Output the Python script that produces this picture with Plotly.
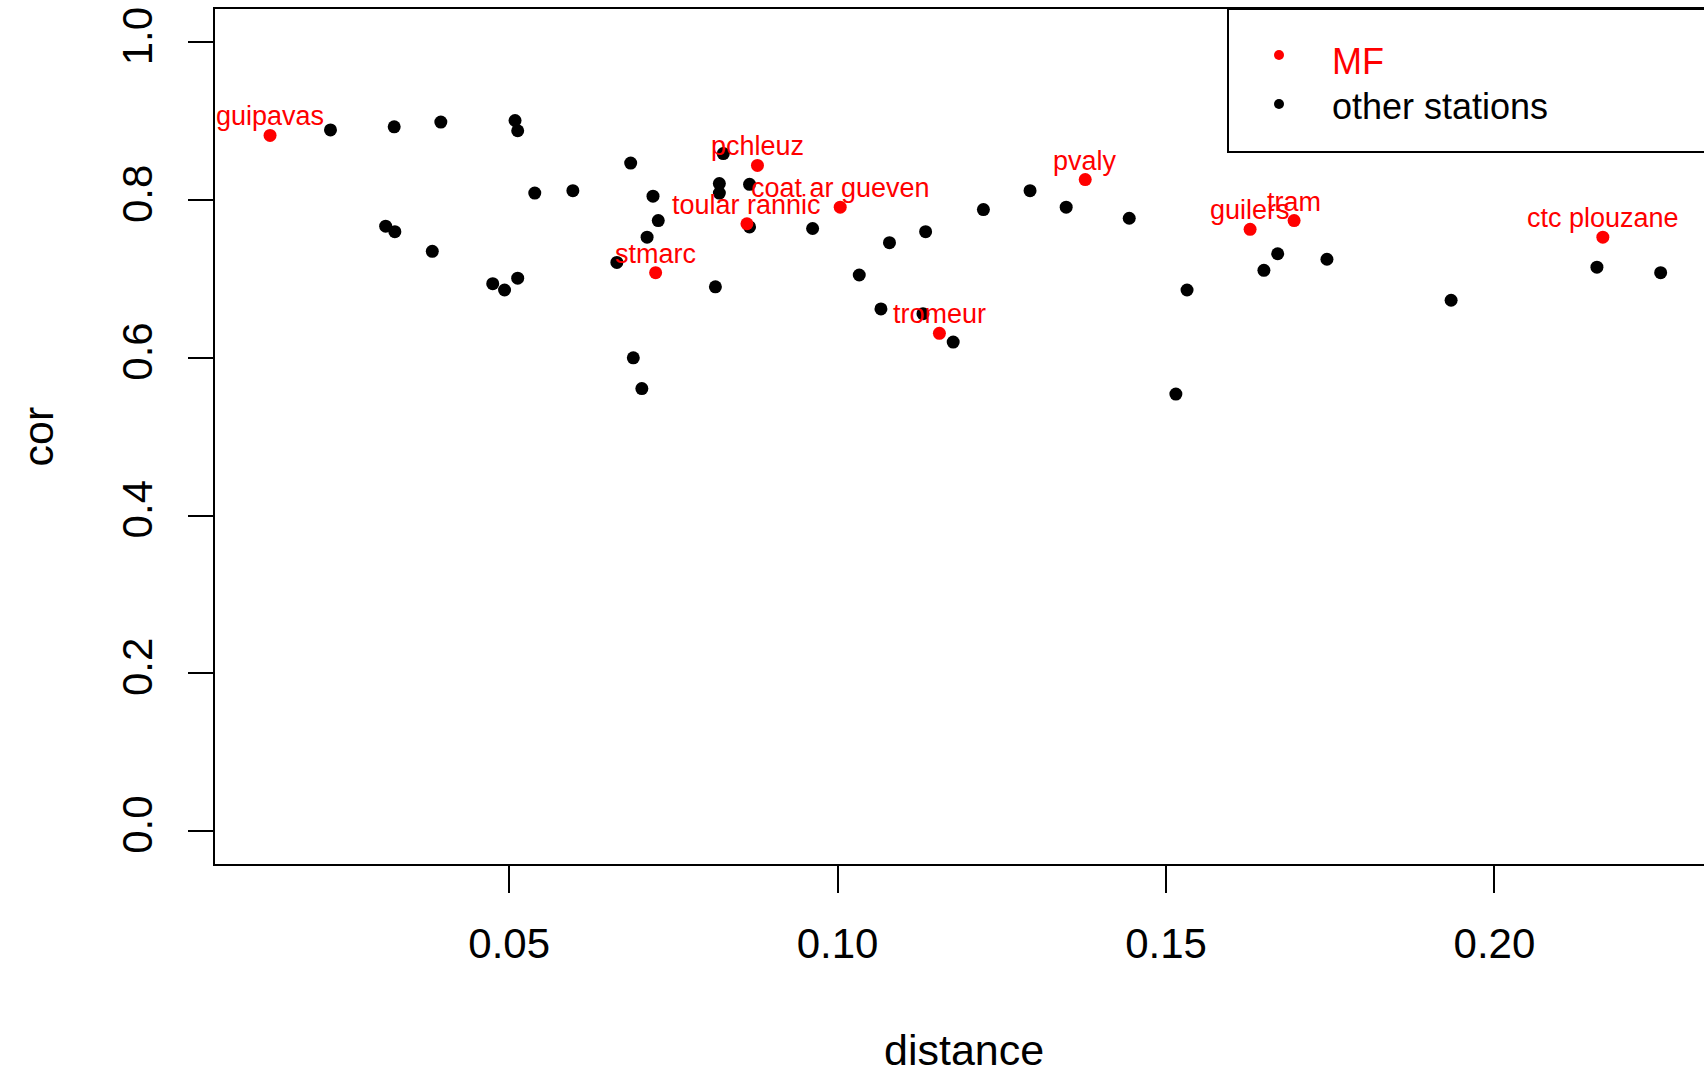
import plotly.graph_objects as go

# ---- data ----
mf_names = ["guipavas", "pchleuz", "coat ar gueven", "toular rannic", "stmarc",
            "tromeur", "pvaly", "guilers", "tram", "ctc plouzane"]
mf_distance = [0.0136, 0.0878, 0.1004, 0.0862, 0.0723,
               0.1155, 0.1377, 0.1628, 0.1695, 0.2165]
mf_cor = [0.882, 0.844, 0.791, 0.770, 0.708,
          0.631, 0.826, 0.763, 0.774, 0.753]

other_distance = [0.0228, 0.0325, 0.0396, 0.0509, 0.0513, 0.0685, 0.0539, 0.0597,
                  0.0719, 0.0312, 0.0326, 0.0383, 0.0727, 0.0710, 0.0664, 0.0475,
                  0.0493, 0.0513, 0.0814, 0.0689, 0.0702, 0.0826, 0.0820, 0.0820,
                  0.0866, 0.0866, 0.0962, 0.1079, 0.1134, 0.1222, 0.1293, 0.1348,
                  0.1444, 0.1033, 0.1066, 0.1130, 0.1176, 0.1532, 0.1515, 0.1670,
                  0.1649, 0.1745, 0.1934, 0.2156, 0.2253]
other_cor = [0.889, 0.893, 0.899, 0.901, 0.888, 0.847, 0.809, 0.812,
             0.805, 0.767, 0.760, 0.735, 0.774, 0.753, 0.721, 0.694,
             0.686, 0.701, 0.690, 0.600, 0.561, 0.859, 0.821, 0.809,
             0.820, 0.766, 0.764, 0.746, 0.760, 0.788, 0.812, 0.791,
             0.777, 0.705, 0.662, 0.656, 0.620, 0.686, 0.554, 0.732,
             0.711, 0.725, 0.673, 0.715, 0.708]

x_ticks = [0.05, 0.10, 0.15, 0.20]
x_ticklabels = ["0.05", "0.10", "0.15", "0.20"]
y_ticks = [0.0, 0.2, 0.4, 0.6, 0.8, 1.0]
y_ticklabels = ["0.0", "0.2", "0.4", "0.6", "0.8", "1.0"]

legend_labels = ["MF", "other stations"]
legend_colors = ["#ff0000", "#000000"]

FONT = "Liberation Sans, Arial, sans-serif"
W, H = 1704, 1074
ML, MR, MT, MB = 215, 0, 9, 210
PW, PH = W - ML - MR, H - MT - MB


def px_x(p):
    return (p - ML) / PW


def px_y(p):
    return (H - MB - p) / PH


fig = go.Figure()

fig.add_trace(go.Scatter(
    x=other_distance, y=other_cor, mode="markers",
    marker=dict(color="#000000", size=13, line=dict(width=0)),
    name="other stations", showlegend=False, hoverinfo="x+y"))

fig.add_trace(go.Scatter(
    x=mf_distance, y=mf_cor, mode="markers",
    marker=dict(color="#ff0000", size=13, line=dict(width=0)),
    name="MF", text=mf_names, showlegend=False, hoverinfo="text+x+y"))

annotations = []
for name, xv, yv in zip(mf_names, mf_distance, mf_cor):
    annotations.append(dict(
        x=xv, y=yv, xref="x", yref="y", text=name, showarrow=False,
        xanchor="center", yanchor="middle", yshift=19,
        font=dict(family=FONT, size=27, color="#ff0000")))

# axis titles
annotations.append(dict(
    x=px_x(964), y=0, xref="paper", yref="paper", text="distance",
    showarrow=False, xanchor="center", yanchor="middle", yshift=-186,
    font=dict(family=FONT, size=43, color="#000000")))
annotations.append(dict(
    x=0, y=0.5, xref="paper", yref="paper", text="cor", textangle=-90,
    showarrow=False, xanchor="center", yanchor="middle", xshift=-178,
    font=dict(family=FONT, size=43, color="#000000")))

# manual legend (box extends past the right edge like the reference)
leg_left, leg_bottom = 1228, 152
dot_y = [55, 104]
text_y = [61, 107]
for lab, col, dy, ty in zip(legend_labels, legend_colors, dot_y, text_y):
    annotations.append(dict(
        x=px_x(1330), y=px_y(ty), xref="paper", yref="paper", text=lab,
        showarrow=False, xanchor="left", yanchor="middle",
        font=dict(family=FONT, size=36, color=col)))

fig.add_trace(go.Scatter(
    x=[px_x(1279)] * len(legend_labels), y=[px_y(v) for v in dot_y],
    xaxis="x2", yaxis="y2", mode="markers",
    marker=dict(color=legend_colors, size=10, line=dict(width=0)),
    showlegend=False, hoverinfo="skip"))

shapes = [dict(type="rect", xref="paper", yref="paper",
               x0=px_x(leg_left), x1=1.05, y0=px_y(leg_bottom), y1=1.0,
               line=dict(color="#000000", width=2), fillcolor="rgba(0,0,0,0)")]

fig.update_layout(
    width=W, height=H,
    margin=dict(l=ML, r=MR, t=MT, b=MB, pad=0),
    paper_bgcolor="white", plot_bgcolor="white",
    showlegend=False,
    font=dict(family=FONT, color="#000000"),
    annotations=annotations, shapes=shapes,
    xaxis=dict(range=[0.00522, 0.2319], showgrid=False, zeroline=False,
               showline=True, linecolor="#000000", linewidth=2, mirror=True,
               ticks="outside", ticklen=27, tickwidth=2, tickcolor="#000000",
               tickvals=x_ticks, ticktext=x_ticklabels,
               tickfont=dict(family=FONT, size=42, color="#000000"),
               ticklabelstandoff=15),
    yaxis=dict(range=[-0.042, 1.0424], showgrid=False, zeroline=False,
               showline=True, linecolor="#000000", linewidth=2,
               ticks="outside", ticklen=25, tickwidth=2, tickcolor="#000000",
               tickvals=y_ticks, ticktext=y_ticklabels, tickangle=-90,
               tickfont=dict(family=FONT, size=42, color="#000000"),
               ticklabelstandoff=19),
    xaxis2=dict(overlaying="x", range=[0, 1], visible=False),
    yaxis2=dict(overlaying="y", range=[0, 1], visible=False),
)

fig.write_html("out.html")
